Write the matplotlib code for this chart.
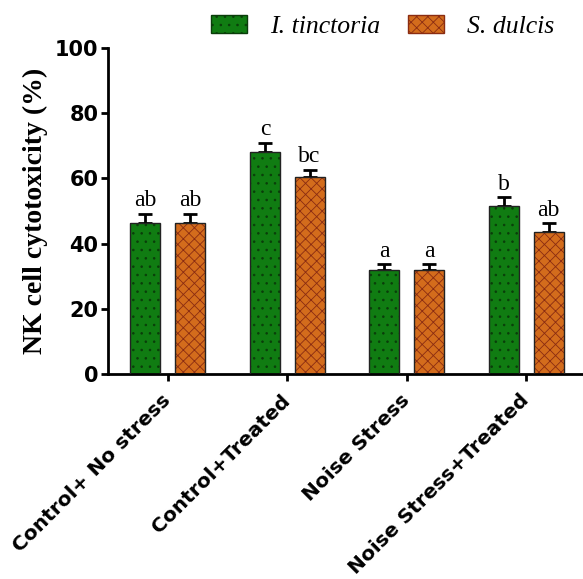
import matplotlib
matplotlib.use("Agg")
import matplotlib.pyplot as plt
from matplotlib.patches import Patch
import numpy as np

groups = ["Control+ No stress", "Control+Treated", "Noise Stress", "Noise Stress+Treated"]
tinctoria = [46.2, 68.2, 31.9, 51.5]
tinctoria_err = [2.8, 2.7, 1.7, 2.7]
dulcis = [46.2, 60.3, 31.9, 43.6]
dulcis_err = [2.8, 2.3, 1.7, 2.6]
tinctoria_letters = ["ab", "c", "a", "b"]
dulcis_letters = ["ab", "bc", "a", "ab"]

green = "#107c12"
orange = "#d36c1c"

plt.rcParams["hatch.linewidth"] = 0.6

fig = plt.figure(figsize=(5.83, 5.79), dpi=100)
ax = fig.add_axes([108 / 583, 205 / 579, 478 / 583, 326 / 579])

x = np.arange(len(groups))
off = 0.187
w = 0.25

# filled bars with pattern, then outlines on top
ax.bar(x - off, tinctoria, w, color=green, edgecolor="#0a3d0a", hatch="..", linewidth=0, zorder=2)
ax.bar(x + off, dulcis, w, color=orange, edgecolor="#8a2c12", hatch="xxx", linewidth=0, zorder=2)
ax.bar(x - off, tinctoria, w, fill=False, edgecolor="#222222", linewidth=1.0, zorder=3)
ax.bar(x + off, dulcis, w, fill=False, edgecolor="#222222", linewidth=1.0, zorder=3)

zeros = np.zeros(len(groups))
ax.errorbar(x - off, tinctoria, yerr=[zeros, tinctoria_err], fmt="none", ecolor="black",
            elinewidth=2, capsize=5, capthick=2, zorder=1)
ax.errorbar(x + off, dulcis, yerr=[zeros, dulcis_err], fmt="none", ecolor="black",
            elinewidth=2, capsize=5, capthick=2, zorder=1)

for i in range(len(groups)):
    ax.annotate(tinctoria_letters[i], (x[i] - off, tinctoria[i] + tinctoria_err[i]),
                xytext=(0, 2), textcoords="offset points", ha="center", va="bottom",
                family="Liberation Serif", fontsize=17)
    ax.annotate(dulcis_letters[i], (x[i] + off, dulcis[i] + dulcis_err[i]),
                xytext=(0, 2), textcoords="offset points", ha="center", va="bottom",
                family="Liberation Serif", fontsize=17)

ax.set_xlim(-0.5, 3.5)
ax.set_ylim(0, 100)
ax.set_yticks([0, 20, 40, 60, 80, 100])
ax.set_xticks(x)
ax.set_xticklabels(groups, rotation=45, ha="right", va="center", rotation_mode="anchor",
                   family="DejaVu Sans", fontweight="bold", fontsize=14.5)
for lbl in ax.get_yticklabels():
    lbl.set_family("DejaVu Sans")
    lbl.set_fontweight("bold")
    lbl.set_fontsize(15)

ax.spines["top"].set_visible(False)
ax.spines["right"].set_visible(False)
ax.spines["left"].set_linewidth(2)
ax.spines["bottom"].set_linewidth(2)
ax.tick_params(axis="both", direction="out", length=5, width=2, pad=2)
ax.tick_params(axis="x", pad=12)

ax.set_ylabel("NK cell cytotoxicity (%)", family="Liberation Serif", fontweight="bold",
              fontsize=20, labelpad=5)

handles = [Patch(facecolor=green, edgecolor="#0a3d0a", hatch="..", label="I. tinctoria"),
           Patch(facecolor=orange, edgecolor="#8a2c12", hatch="xxx", label="S. dulcis")]
fig.legend(handles=handles, loc="center", bbox_to_anchor=(0.656, 0.955), ncol=2,
           frameon=False, prop={"family": "Liberation Serif", "style": "italic", "size": 18.5},
           handlelength=1.4, handleheight=0.7, columnspacing=1.1, handletextpad=0.9)

plt.savefig("out.png", dpi=100)
